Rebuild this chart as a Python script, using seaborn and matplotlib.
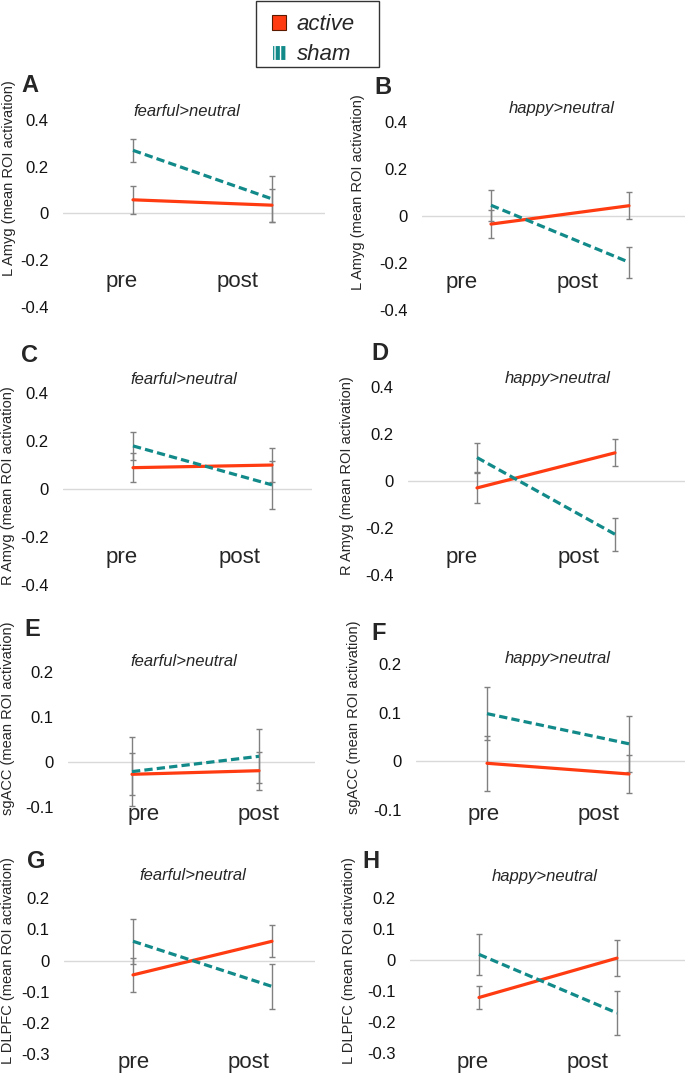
import numpy as np
import pandas as pd
import matplotlib
matplotlib.use('Agg')
import matplotlib.pyplot as plt
import seaborn as sns
from matplotlib.patches import Patch, Rectangle
from matplotlib.ticker import FuncFormatter

sns.set_style('white')
plt.rcParams['font.family'] = ['Liberation Sans', 'DejaVu Sans']
plt.rcParams['axes.unicode_minus'] = False

# ---------------- data ----------------
times = ['pre', 'post']
groups = ['active', 'sham']
contrasts = ['fearful>neutral', 'happy>neutral']
roi_labels = ['L Amyg', 'R Amyg', 'sgACC', 'L DLPFC']
panel_letters = ['A', 'B', 'C', 'D', 'E', 'F', 'G', 'H']

A_active = [0.058, 0.035];  A_active_se = [0.060, 0.070]
A_sham = [0.270, 0.062];    A_sham_se = [0.050, 0.100]
B_active = [-0.035, 0.043]; B_active_se = [0.060, 0.057]
B_sham = [0.045, -0.197];   B_sham_se = [0.065, 0.066]
C_active = [0.089, 0.100];  C_active_se = [0.060, 0.073]
C_sham = [0.180, 0.017];    C_sham_se = [0.057, 0.100]
D_active = [-0.030, 0.119]; D_active_se = [0.063, 0.058]
D_sham = [0.099, -0.227];   D_sham_se = [0.063, 0.069]
E_active = [-0.028, -0.020]; E_active_se = [0.047, 0.042]
E_sham = [-0.022, 0.012];   E_sham_se = [0.076, 0.060]
F_active = [-0.004, -0.026]; F_active_se = [0.057, 0.040]
F_sham = [0.098, 0.036];    F_sham_se = [0.055, 0.057]
G_active = [-0.046, 0.062]; G_active_se = [0.054, 0.052]
G_sham = [0.062, -0.083];   G_sham_se = [0.073, 0.073]
H_active = [-0.120, 0.007]; H_active_se = [0.037, 0.058]
H_sham = [0.019, -0.170];   H_sham_se = [0.066, 0.072]

yticks_amyg = [-0.4, -0.2, 0, 0.2, 0.4]
yticks_sgacc = [-0.1, 0, 0.1, 0.2]
yticks_dlpfc = [-0.3, -0.2, -0.1, 0, 0.1, 0.2]

panel_data = {
    'A': (A_active, A_active_se, A_sham, A_sham_se),
    'B': (B_active, B_active_se, B_sham, B_sham_se),
    'C': (C_active, C_active_se, C_sham, C_sham_se),
    'D': (D_active, D_active_se, D_sham, D_sham_se),
    'E': (E_active, E_active_se, E_sham, E_sham_se),
    'F': (F_active, F_active_se, F_sham, F_sham_se),
    'G': (G_active, G_active_se, G_sham, G_sham_se),
    'H': (H_active, H_active_se, H_sham, H_sham_se),
}
panel_ticks = {'A': yticks_amyg, 'B': yticks_amyg, 'C': yticks_amyg, 'D': yticks_amyg,
               'E': yticks_sgacc, 'F': yticks_sgacc, 'G': yticks_dlpfc, 'H': yticks_dlpfc}

# ---------------- layout (pixels) ----------------
W, H = 685, 1074
# left, right, pre_x, post_x, ytop_px, ybot_px
geom = {
    'A': (63, 325, 133, 272, 120.0, 306.7),
    'B': (422, 685, 491, 629, 121.7, 310.0),
    'C': (63, 312, 133, 272, 393.3, 584.6),
    'D': (408, 685, 477, 615, 386.7, 575.0),
    'E': (68, 315, 132, 259, 671.7, 806.7),
    'F': (416, 685, 487, 629, 664.0, 810.0),
    'G': (64, 315, 133, 272, 898.3, 1054.0),
    'H': (410, 685, 479, 617, 898.3, 1053.3),
}
letter_pos = {'A': (21, 85), 'B': (374, 87), 'C': (21, 355), 'D': (371, 353),
              'E': (24, 629), 'F': (371, 634), 'G': (27, 862), 'H': (362, 862)}
title_pos = {'A': (187, 112), 'B': (562, 109), 'C': (184, 380), 'D': (558, 378),
             'E': (184, 661), 'F': (558, 659), 'G': (193, 876), 'H': (545, 877)}
ylabel_pos = {'A': (9, 178), 'B': (358, 192), 'C': (8, 486), 'D': (347, 476),
              'E': (8, 718), 'F': (354, 717), 'G': (8, 961), 'H': (349, 961)}
# pre x, post x, baseline y
xlab_pos = {'A': (122, 238, 287), 'B': (462, 578, 288), 'C': (122, 240, 563),
            'D': (462, 579, 563), 'E': (144, 259, 820), 'F': (484, 599, 820),
            'G': (134, 249, 1068), 'H': (473, 588, 1068)}

RED = '#FF3B12'
TEAL = '#138A8A'
GRAY = '#808080'

fig = plt.figure(figsize=(W / 100, H / 100), dpi=100)

def fx(x):
    return x / W

def fy(y):
    return 1 - y / H

for i, key in enumerate(panel_letters):
    l, r, px0, px1, ytop, ybot = geom[key]
    ticks = panel_ticks[key]
    ax = fig.add_axes([fx(l), fy(ybot), (r - l) / W, (ybot - ytop) / H])
    unit = px1 - px0
    ax.set_xlim((l - px0) / unit, (r - px0) / unit)
    ax.set_ylim(min(ticks), max(ticks))

    act, act_se, sh, sh_se = panel_data[key]
    df = pd.DataFrame({
        'x': [0, 1, 0, 1],
        'value': list(act) + list(sh),
        'group': ['active'] * 2 + ['sham'] * 2,
    })
    ax.axhline(0, color='#d9d9d9', lw=1.0, zorder=0)
    ax.errorbar([0, 1], act, yerr=act_se, fmt='none', ecolor=GRAY, elinewidth=1.0,
                capsize=2.5, capthick=1.0, zorder=1)
    ax.errorbar([0, 1], sh, yerr=sh_se, fmt='none', ecolor=GRAY, elinewidth=1.0,
                capsize=2.5, capthick=1.0, zorder=1)
    sns.lineplot(data=df, x='x', y='value', hue='group', style='group',
                 hue_order=groups, style_order=groups,
                 palette={'active': RED, 'sham': TEAL},
                 dashes={'active': '', 'sham': (2.6, 1.3)},
                 linewidth=2.3, legend=False, sort=False, errorbar=None, ax=ax)
    ax.lines[-1].set_zorder(3)
    ax.set_xlabel('')
    ax.set_ylabel('')
    ax.set_xticks([])
    ax.set_yticks(ticks)
    ax.yaxis.set_major_formatter(FuncFormatter(lambda v, p: '0' if abs(v) < 1e-9 else f'{v:g}'))
    ax.tick_params(axis='y', length=0, pad=10.5, labelsize=12, labelcolor='#111111')
    for s in ax.spines.values():
        s.set_visible(False)
    ax.patch.set_alpha(0)

    # panel annotations
    lx, ly = letter_pos[key]
    fig.text(fx(lx), fy(ly), key, fontsize=17, fontweight='bold', ha='left', va='center')
    tx, ty = title_pos[key]
    fig.text(fx(tx), fy(ty), contrasts[i % 2], fontsize=12, style='italic',
             ha='center', va='center')
    yx, yy = ylabel_pos[key]
    fig.text(fx(yx), fy(yy), f'{roi_labels[i // 2]} (mean ROI activation)', fontsize=10.5,
             rotation=90, ha='center', va='center')
    p0, p1, base = xlab_pos[key]
    fig.text(fx(p0), fy(base), times[0], fontsize=16, ha='center', va='baseline')
    fig.text(fx(p1), fy(base), times[1], fontsize=16, ha='center', va='baseline')

# legend
handles = [Patch(facecolor=RED, edgecolor='#5a1a00', linewidth=0.8),
           Patch(facecolor=TEAL, edgecolor='white', hatch='|||', linewidth=0.8)]
leg = fig.legend(handles, groups, loc='upper left', bbox_to_anchor=(fx(262), fy(4)),
                 bbox_transform=fig.transFigure, frameon=False,
                 prop={'style': 'italic', 'size': 16}, handlelength=0.65,
                 handleheight=0.65, handletextpad=0.45, labelspacing=0.4,
                 borderpad=0.45, borderaxespad=0)
fig.patches.append(Rectangle((fx(256), fy(67)), (379 - 256) / W, 66 / H,
                             transform=fig.transFigure, facecolor='none',
                             edgecolor='#333333', linewidth=1.0))

fig.savefig('out.png', dpi=100)
